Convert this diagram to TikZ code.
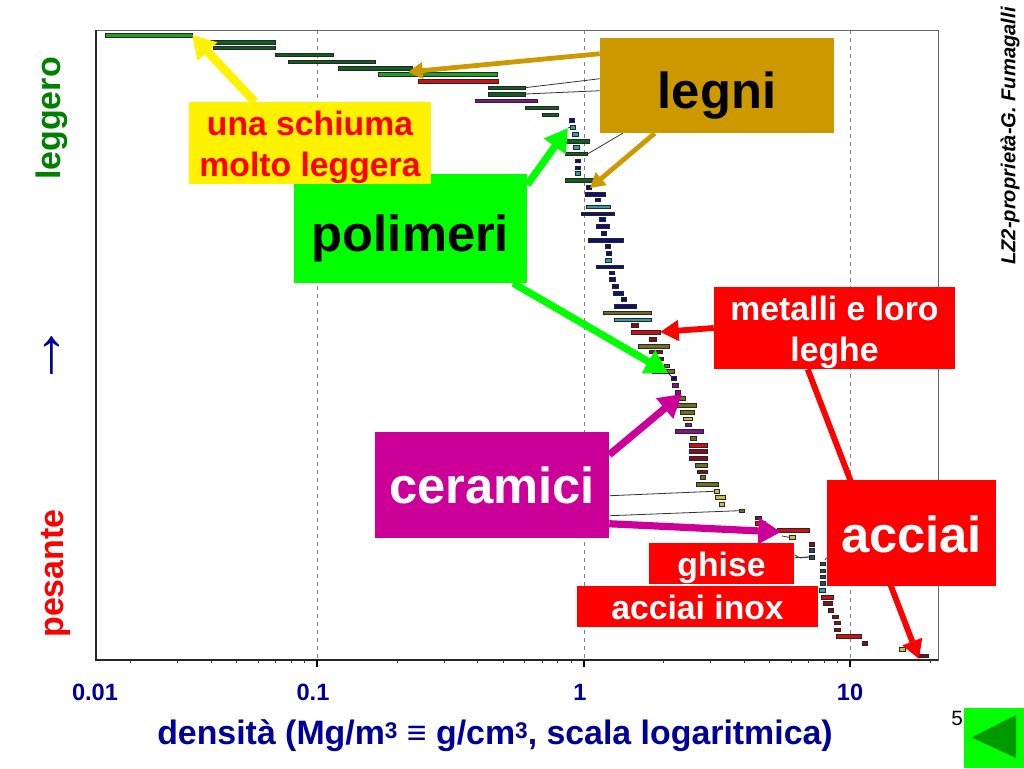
\documentclass[tikz,border=0pt]{standalone}
\usepackage{fontspec}
\setmainfont{Liberation Sans}
\usetikzlibrary{arrows.meta, calc, backgrounds}
\definecolor{navytext}{HTML}{000099}
\definecolor{goldbox}{HTML}{CC9900}
\definecolor{greenbox}{HTML}{00FF00}
\definecolor{magentabox}{HTML}{CC0099}
\definecolor{darkgreentext}{HTML}{008000}
\definecolor{gA}{HTML}{1FA01F}
\definecolor{gB}{HTML}{0F5F1F}
\definecolor{pu}{HTML}{8A108A}
\definecolor{rd}{HTML}{D01010}
\definecolor{mr}{HTML}{801020}
\definecolor{nv}{HTML}{101070}
\definecolor{te}{HTML}{30A0A0}
\definecolor{dt}{HTML}{205060}
\definecolor{ol}{HTML}{6F6F20}
\definecolor{ye}{HTML}{D0C040}
\newcommand{\px}{0.75pt}
\newcommand{\supthree}{\raisebox{5pt}{\fontsize{17}{17}\selectfont 3}}

\begin{document}
\begin{tikzpicture}[
    x=0.75pt, y=-0.75pt,
    box/.style={rectangle, inner sep=0pt, align=center, font=\bfseries},
    bigtext/.style={box, font=\fontsize{38}{44}\selectfont\bfseries},
    midtext/.style={box, font=\fontsize{25.3}{30.75}\selectfont\bfseries},
    lowered/.style={text depth=0pt, text height=#1},
    sidelabel/.style={rotate=90, inner sep=0pt, font=\fontsize{25.5}{30}\selectfont\bfseries},
    ticklabel/.style={inner sep=0pt, text=navytext, font=\fontsize{17.7}{20}\selectfont\bfseries},
    bar/.style={draw=black!85, line width=0.4pt},
    leader/.style={draw=black!80, line width=0.6pt},
    thickarrow/.style={-{Triangle[length=17pt,width=19pt]}, line width=5.4pt},
    redarrow/.style={-{Triangle[length=14pt,width=15pt]}, line width=4.4pt},
    thinarrow/.style={-{Triangle[length=11pt,width=12pt]}, line width=3.6pt}
]
\useasboundingbox (0,0) rectangle (1024,768);

% Coloured boxes
\node[bigtext, lowered=35pt, fill=goldbox, minimum width=234*\px, minimum height=95*\px] (legni) at (717,85.5) {legni};
\node[bigtext, lowered=33.8pt, fill=greenbox, minimum width=233*\px, minimum height=109*\px] (polimeri) at (410.5,228.5) {polimeri};
\node[midtext, lowered=49.5pt, fill=yellow, text=red, minimum width=242*\px, minimum height=82*\px] (schiuma) at (310,143) {una schiuma\\molto leggera};
\node[midtext, lowered=49.5pt, fill=red, text=white, minimum width=241*\px, minimum height=82*\px] (metalli) at (834.5,328) {metalli e loro\\leghe};
\node[bigtext, lowered=27pt, fill=magentabox, text=white, minimum width=234*\px, minimum height=106*\px] (ceramici) at (492,485) {ceramici};
\node[bigtext, lowered=29pt, fill=red, text=white, minimum width=169*\px, minimum height=106*\px] (acciai) at (911.5,533) {acciai};
\node[midtext, lowered=20pt, fill=red, text=white, minimum width=145*\px, minimum height=41*\px] (ghise) at (721.5,563.5) {ghise};
\node[midtext, lowered=19.5pt, fill=red, text=white, minimum width=241*\px, minimum height=41*\px] (inox) at (697.5,606.5) {acciai inox};

% Axis labels
\node[sidelabel, text=darkgreentext] (leggero) at (52,118.5) {leggero};
\node[sidelabel, text=red] (pesante) at (56,573.5) {pesante};
\node[rotate=90, inner sep=0pt, text=navytext, font=\fontsize{48}{50}\selectfont] (verso) at (53,355) {→};
\node[ticklabel] (t001) at (95,692) {0.01};
\node[ticklabel] (t01) at (313,692) {0.1};
\node[ticklabel] (t1) at (580,692) {1};
\node[ticklabel] (t10) at (850,692) {10};
\node[inner sep=0pt, text=navytext, font=\fontsize{25.4}{30}\selectfont\bfseries] (densita) at (495,736) {densità (Mg/m\supthree{} ≡ g/cm\supthree, scala logaritmica)};
\node[rotate=90, inner sep=0pt, font=\fontsize{15.1}{18}\selectfont\bfseries\itshape] (firma) at (1010,136) {LZ2-proprietà-G. Fumagalli};

% Page number and back button
\node[inner sep=0pt, font=\fontsize{15.5}{18}\selectfont] (pagina) at (957,718) {5};
\node[fill=greenbox, inner sep=0pt, minimum width=60*\px, minimum height=60*\px] (bottone) at (994,738) {};
\fill[green!60!black] (971.5,737.5) -- (1016,715) -- (1016,758) -- cycle;

% Targets of the arrows
\coordinate (tipschiuma) at (192,35);
\coordinate (tiplegniA) at (408,72);
\coordinate (tiplegniB) at (590,188);
\coordinate (tippoliA) at (568,128);
\coordinate (tippoliB) at (668,373);
\coordinate (tipmetalli) at (660,332);
\coordinate (tipcerA) at (682,394);
\coordinate (tipcerB) at (781,532);
\coordinate (tipacciai) at (919,659);

\begin{scope}[on background layer]
% Plot frame, grid and ticks
\foreach \gx in {317,584,850}
  \draw[gray, dashed, line width=0.6pt] (\gx,30) -- (\gx,660);
\draw[black!60, line width=0.6pt] (96,30) rectangle (938,660);
\draw[black!85, line width=0.8pt] (96,30) -- (96,660) -- (938,660);
\foreach \gx in {317,584,850}
  \draw[black, line width=0.8pt] (\gx,660) -- (\gx,667);
\begin{scope}
\clip (96,655) rectangle (938,670);
\foreach \dec in {50.5,317,583.5,850}
  \foreach \k in {2,...,9}
    \draw[black!80, line width=0.5pt] ({\dec+266.5*log10(\k)},660) -- ({\dec+266.5*log10(\k)},663);
\end{scope}

% Density bars
\foreach \xa/\xb/\yc/\col in {
  105/192/35/gA, 198/275/42/gB, 213/275/47.7/gB, 275/333/54.7/gB, 288/375/61.7/gB,
  338/412/68.3/gB, 378/497/74.3/gA, 418/498/81/rd, 488/525/87.7/gB, 488/525/94/gB,
  475/537/100.7/pu, 525/558/107.7/gB, 542/558/114.7/gB, 569/574/120.3/nv, 570/575/127.3/te,
  572/578/134.3/te, 566/589/141/gB, 573/579/147/te, 565/587/153.7/gB, 575/580/160.7/nv,
  575/580/167.7/nv, 575/580/173.3/te, 565/595/180/gB, 586/591/187/nv, 585/605/194/nv,
  595/600/199.7/nv, 586/610/206.7/te, 581/614/213.7/nv, 599/605/219.3/nv, 596/609/226.3/nv,
  601/606/233.3/nv, 588/623/240/nv, 605/610/246/nv, 606/611/253/nv, 605/611/260/te,
  596/623/266.7/nv, 609/614/272.7/nv, 609/615/279/nv, 612/618/286/nv, 613/623/293/nv,
  621/626/299/nv, 614/636/306/nv, 603/651/312.7/ol, 614/651/319.7/te, 631/638/325.3/mr,
  631/660/332/rd, 649/656/339/mr, 638/669/346/ol, 649/662/351.7/mr, 651/663/358.7/mr,
  664/669/365.7/ol, 652/674/371.3/ol, 671/676/378.3/nv, 672/678/385.3/pu, 675/680/392.3/pu,
  679/685/398/ol, 677/696/405/ol, 680/694/412/ol, 683/692/418.7/ye, 685/691/424.7/pu,
  675/703/431.3/pu, 690/696/438.3/ol, 689/707/445/rd, 689/707/451/mr, 689/707/458/mr,
  695/707/465/ol, 697/707/471.7/mr, 700/705/477.3/ol, 696/718/484.3/ol, 714/719/491.3/ye,
  715/725/497/ye, 719/724/504/ye, 739/744/510.7/ol, 755/761/517.7/mr, 755/765/523.3/rd,
  777/809/530.3/rd, 789/795/537.3/ye, 809/814/544/mr, 809/814/550/dt, 809/814/557/dt,
  820/825/563.7/dt, 820/825/570.7/dt, 820/825/576.7/dt, 820/825/583.3/dt, 819/825/590.3/te,
  821/833/597/rd, 823/832/603/mr, 828/833/610/mr, 832/838/616.7/mr, 834/840/622.7/mr,
  834/840/629.7/mr, 836/861/636.3/rd, 862/867/643.3/mr, 899/905/649/ye, 919/928/655.7/mr}
  \draw[bar, fill=\col] (\xa,\yc-1.9) rectangle (\xb,\yc+1.9);

% Thin leaders from the boxes to the bars
\draw[leader] (525,87.7) -- ($(legni.north west)+(0,41)$);
\draw[leader] (525,94) -- ($(legni.north west)+(0,53)$);
\draw[leader] (588,153.7) -- ($(legni.south west)+(23,0)$);
\draw[leader] (570,127.3) -- (tippoliA);
\draw[leader] (668,373) -- (672,377);
\draw[leader] (714,491.3) -- ($(ceramici.north east)+(0,64)$);
\draw[leader] (739,510.7) -- ($(ceramici.north east)+(0,84)$);
\draw[leader] (789,537.3) -- (782,536);
\draw[leader] (809,557) -- ($(ghise.north east)+(0,15)$);
\draw[leader] (809,557) -- (800,558) -- ($(ghise.north east)+(0,12)$);
\draw[leader] (825,560) -- ($(acciai.north west)+(0,78)$);

% Arrows
\draw[thickarrow, line width=6.4pt, yellow] ($(schiuma.north west)+(66,0)$) -- (tipschiuma);
\draw[thinarrow, goldbox] ($(legni.north west)+(0,16)$) -- (tiplegniA);
\draw[thinarrow, goldbox] ($(legni.south west)+(55,0)$) -- (tiplegniB);
\draw[thickarrow, greenbox] ($(polimeri.north east)+(0,11)$) -- (tippoliA);
\draw[thickarrow, greenbox] ($(polimeri.south east)+(-14,0)$) -- (tippoliB);
\draw[redarrow, red] (metalli.west) -- (tipmetalli);
\draw[redarrow, red] ($(metalli.south west)+(94,0)$) -- (tipacciai);
\draw[thickarrow, magentabox] ($(ceramici.north east)+(0,23)$) -- (tipcerA);
\draw[thickarrow, magentabox] ($(ceramici.north east)+(0,92)$) -- (tipcerB);
\end{scope}

\end{tikzpicture}
\end{document}
